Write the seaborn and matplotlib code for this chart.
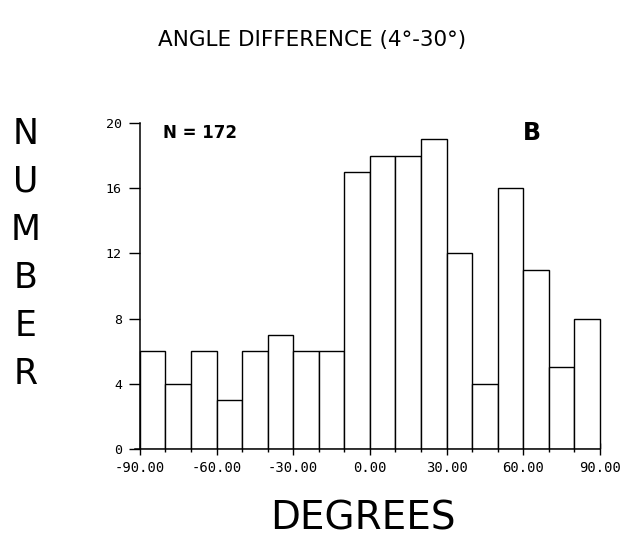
import numpy as np
import seaborn as sns
import matplotlib.pyplot as plt
from matplotlib.ticker import MultipleLocator, FormatStrFormatter

# counts per 10-degree bin, -90 .. 90
bin_left = [-90, -80, -70, -60, -50, -40, -30, -20, -10,
            0, 10, 20, 30, 40, 50, 60, 70, 80]
counts = [6, 4, 6, 3, 6, 7, 6, 6, 17, 18, 18, 19, 12, 4, 16, 11, 5, 8]
y_ticks = [0, 4, 8, 12, 16, 20]
x_ticks = [-90, -60, -30, 0, 30, 60, 90]
ylabel_letters = ["N", "U", "M", "B", "E", "R"]

sns.set_style("ticks")
plt.rcParams["font.family"] = ["DejaVu Sans"]
plt.rcParams["text.color"] = "black"
plt.rcParams["xtick.color"] = "black"
plt.rcParams["ytick.color"] = "black"

centers = np.array(bin_left) + 5

fig = plt.figure(figsize=(6.29, 5.39), dpi=100)
ax = fig.add_axes([0.2103, 0.167, 0.7515, 0.605])

sns.histplot(
    x=centers,
    weights=counts,
    binwidth=10,
    binrange=(-90, 90),
    color="white",
    edgecolor="black",
    linewidth=1.0,
    alpha=1,
    ax=ax,
)

ax.set_xlim(-93, 92)
ax.set_ylim(0, 20)
ax.spines["top"].set_visible(False)
ax.spines["right"].set_visible(False)
ax.spines["left"].set_position(("data", -90))
ax.spines["left"].set_bounds(0, 20)
ax.spines["bottom"].set_bounds(-92, 90)
for s in ("left", "bottom"):
    ax.spines[s].set_linewidth(1.1)
    ax.spines[s].set_color("black")

ax.set_xticks(x_ticks)
ax.xaxis.set_minor_locator(MultipleLocator(10))
ax.xaxis.set_major_formatter(FormatStrFormatter("%.2f"))
ax.set_yticks(y_ticks)
ax.tick_params(axis="x", which="major", direction="inout", length=8,
               width=1.0, pad=5, labelsize=10, labelcolor="black")
ax.tick_params(axis="x", which="minor", direction="inout", length=5,
               width=1.0)
ax.tick_params(axis="y", direction="out", length=8, width=1.0, pad=5,
               labelsize=9.5, labelcolor="black")
for lab in ax.get_xticklabels() + ax.get_yticklabels():
    lab.set_family("DejaVu Sans Mono")

ax.set_xlabel("")
ax.set_ylabel("")

ax.text(0.065, 0.969, "N = 172", transform=ax.transAxes, fontsize=12,
        fontweight="bold", ha="left", va="center")
ax.text(0.8456, 0.969, "B", transform=ax.transAxes, fontsize=17,
        fontweight="bold", ha="center", va="center")

fig.text(312 / 629, 1 - 40 / 539, "ANGLE DIFFERENCE (4°-30°)",
         fontsize=15.5, ha="center", va="center")
fig.text(363 / 629, 1 - 518 / 539, "DEGREES", fontsize=28,
         ha="center", va="center")
for i, letter in enumerate(ylabel_letters):
    fig.text(26 / 629, 1 - (134 + 48 * i) / 539, letter, fontsize=25,
             ha="center", va="center")

fig.savefig("out.png", dpi=100, facecolor="white")
